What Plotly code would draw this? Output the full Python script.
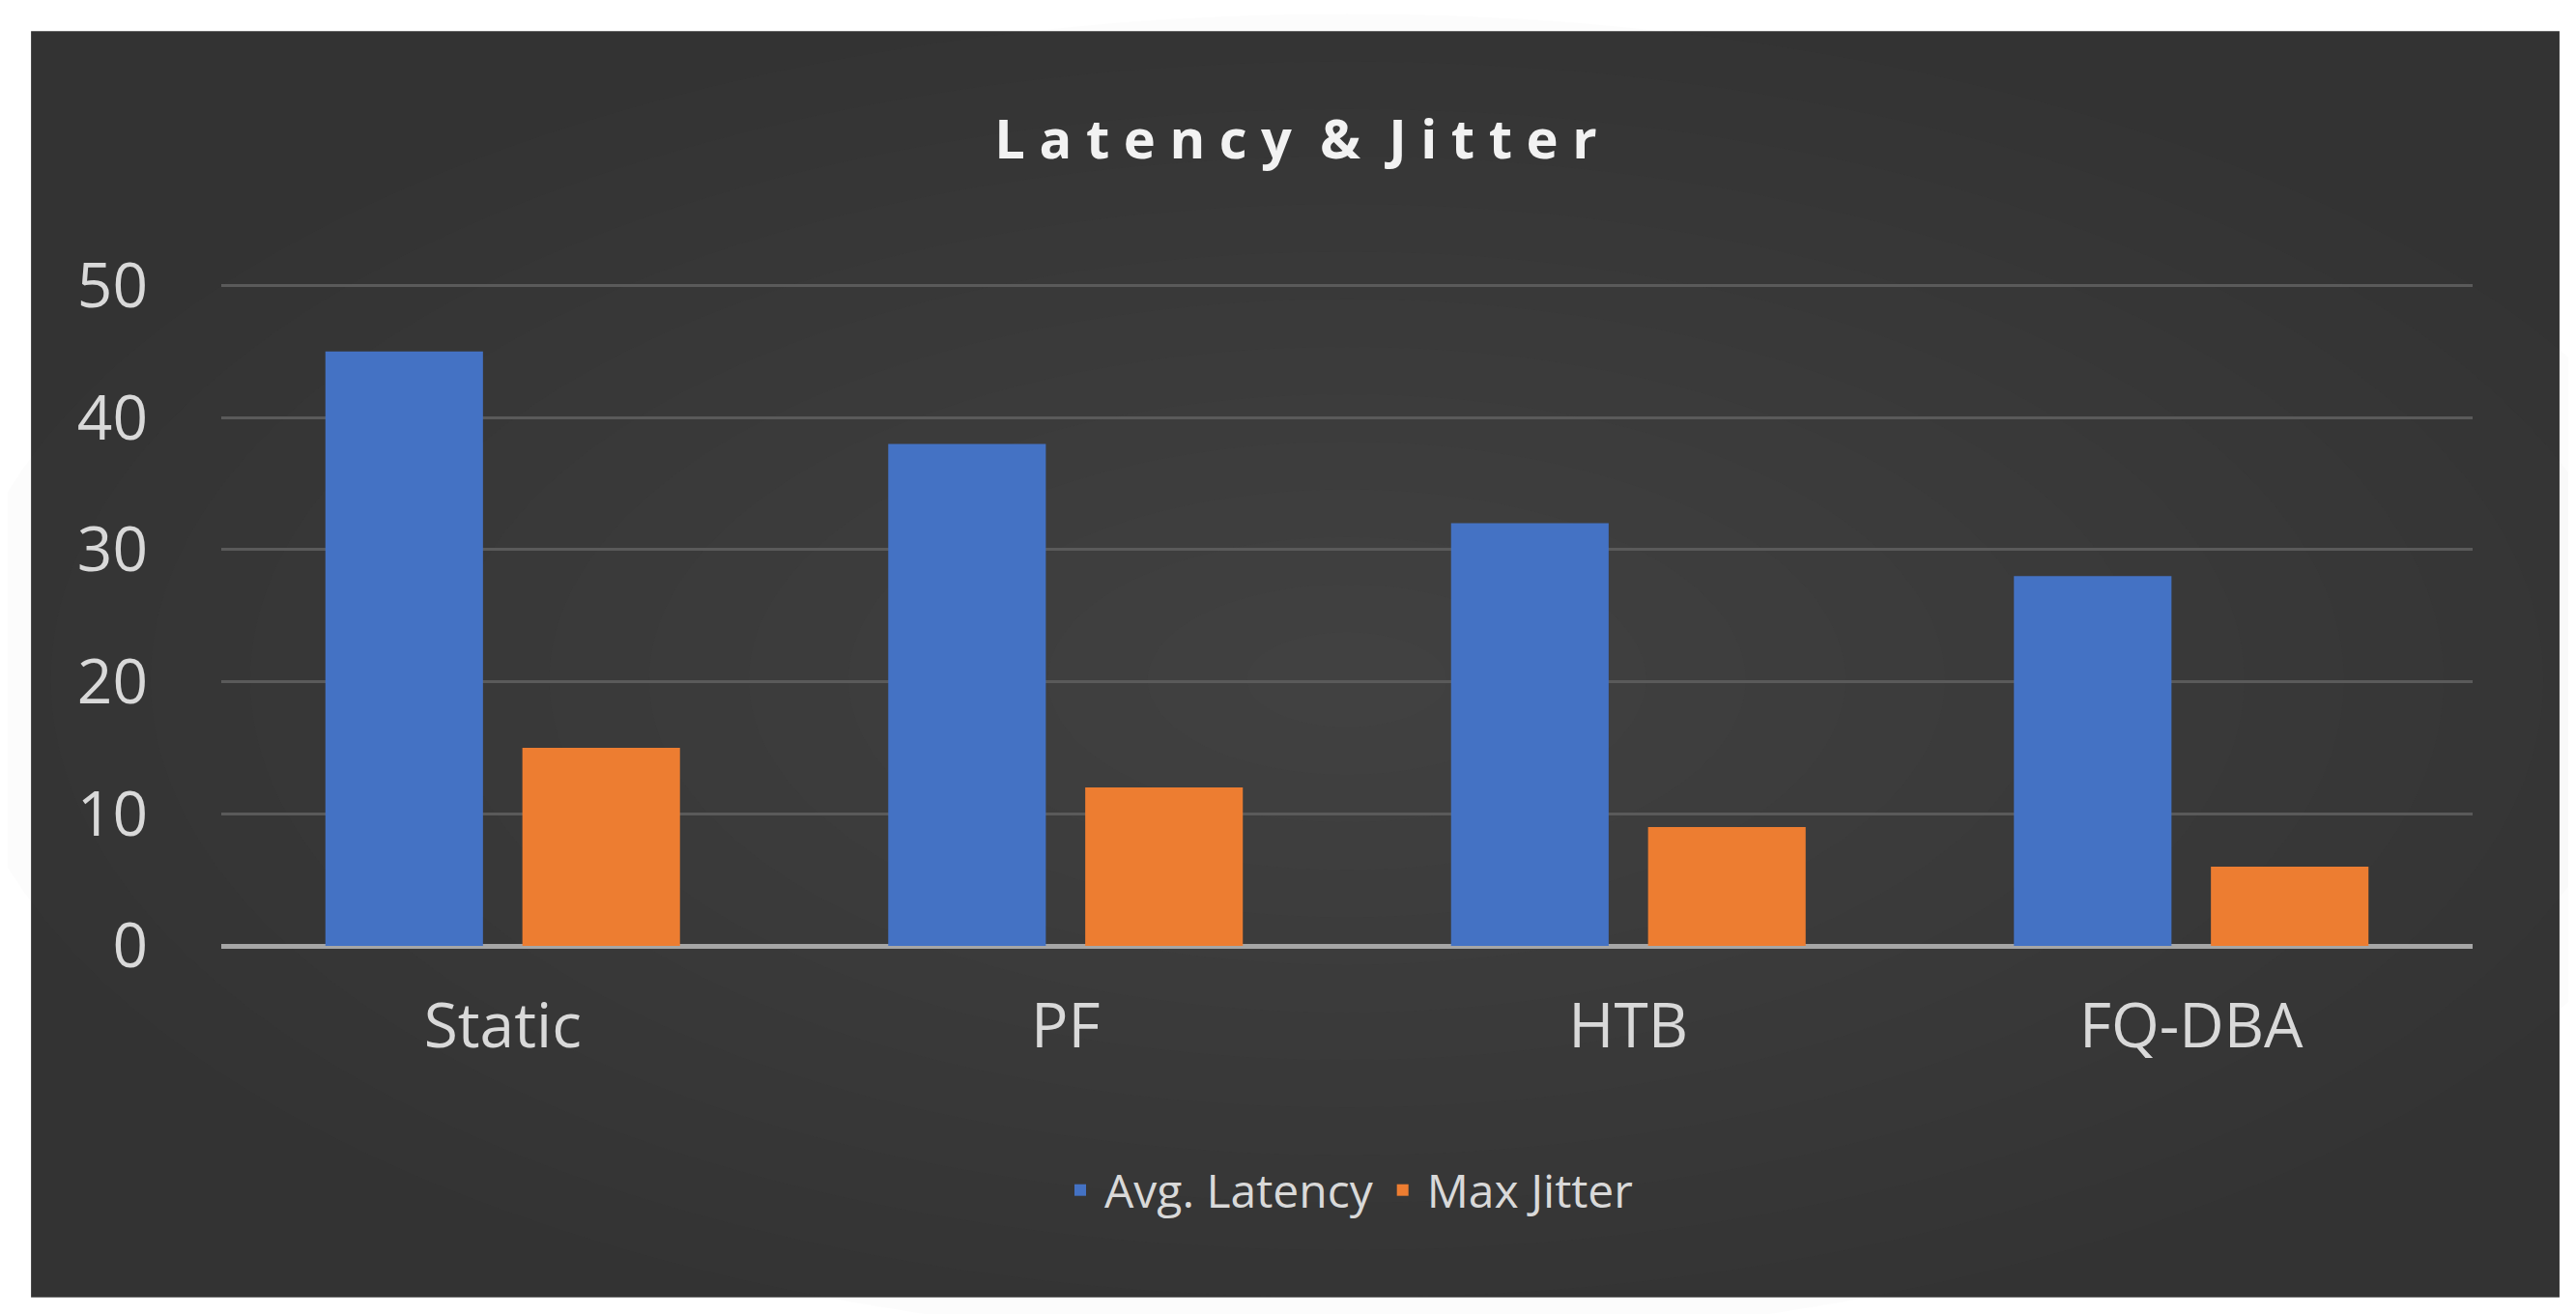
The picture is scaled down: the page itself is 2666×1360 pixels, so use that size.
import plotly.graph_objects as go

categories = ["Static", "PF", "HTB", "FQ-DBA"]
avg_latency = [45, 38, 32, 28]
max_jitter = [15, 12, 9, 6]
y_ticks = [0, 10, 20, 30, 40, 50]

fig = go.Figure()
fig.add_bar(x=categories, y=avg_latency, name="Avg. Latency", marker=dict(color="#4472C4", line=dict(width=0)))
fig.add_bar(x=categories, y=max_jitter, name="Max Jitter", marker=dict(color="#ED7D31", line=dict(width=0)))

shapes = [dict(type="rect", xref="paper", yref="paper", x0=-0.0845, x1=1.0386, y0=-0.528, y1=1.374,
               fillcolor="#333333", line=dict(width=0), layer="below")]
# soft radial glow
n = 14
for i in range(n):
    f = 1 - i / n
    rx, ry = 0.62 * f, 1.0 * f
    shapes.append(dict(type="circle", xref="paper", yref="paper", x0=0.5 - rx, x1=0.5 + rx,
                       y0=0.4 - ry, y1=0.4 + ry, fillcolor="rgba(120,120,120,0.025)",
                       line=dict(width=0), layer="below"))

fig.update_layout(
    width=2666, height=1360,
    paper_bgcolor="white", plot_bgcolor="rgba(0,0,0,0)",
    margin=dict(l=221, r=115, t=282, b=389),
    shapes=shapes,
    barmode="group", bargap=0.3, bargroupgap=0.2,
    title=dict(text="<b>L a t e n c y  &amp;  J i t t e r</b>", x=0.5, xanchor="center", y=1 - 136 / 1360,
               yref="container", yanchor="middle",
               font=dict(family="Open Sans", size=56, color="#F2F2F2")),
    font=dict(family="Open Sans", color="#D9D9D9"),
    xaxis=dict(showgrid=False, tickfont=dict(size=64, color="#D9D9D9"), ticks="", ticklabelstandoff=40,
               showline=False),
    yaxis=dict(range=[0, 50.4], tickvals=y_ticks, gridcolor="#5A5A5A", gridwidth=3,
               tickfont=dict(size=64, color="#D9D9D9"), zeroline=True, zerolinecolor="#A6A6A6",
               zerolinewidth=5, ticklabelstandoff=75, showline=False),
    legend=dict(orientation="h", x=0.5, xanchor="center", y=0.1, yref="container", yanchor="middle",
                font=dict(size=48, color="#D9D9D9"), bgcolor="rgba(0,0,0,0)", itemwidth=40),
)
fig.write_html("out.html")
